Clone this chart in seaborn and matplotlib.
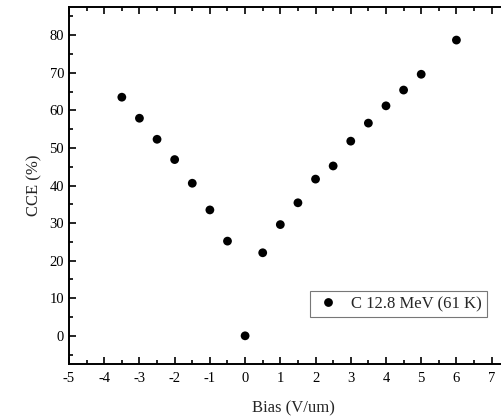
import matplotlib
matplotlib.use("Agg")
import matplotlib.pyplot as plt
import seaborn as sns
import pandas as pd
from matplotlib.ticker import MultipleLocator

bias = [-3.5, -3, -2.5, -2, -1.5, -1, -0.5, 0, 0.5, 1, 1.5, 2, 2.5, 3, 3.5, 4, 4.5, 5, 6]
cce = [63.5, 57.9, 52.3, 46.9, 40.6, 33.5, 25.2, 0.0, 22.1, 29.6, 35.4, 41.7, 45.2, 51.8, 56.6, 61.2, 65.4, 69.6, 78.7]
series_label = "C 12.8 MeV (61 K)"

df = pd.DataFrame({"Bias": bias, "CCE": cce, "series": series_label})

sns.set_style("ticks")
plt.rcParams["font.family"] = ["Liberation Serif", "DejaVu Serif"]
plt.rcParams["axes.unicode_minus"] = False

fig = plt.figure(figsize=(5.02, 4.19), dpi=100)
ax = fig.add_axes([69 / 502, 55 / 419, 448 / 502, 357 / 419])

sns.scatterplot(data=df, x="Bias", y="CCE", hue="series", palette=["black"],
                s=40, edgecolor="black", linewidth=0, ax=ax)

ax.set_xlim(-5, 7.72)
ax.set_ylim(-7.5, 87.5)
ax.xaxis.set_major_locator(MultipleLocator(1))
ax.xaxis.set_minor_locator(MultipleLocator(0.5))
ax.yaxis.set_major_locator(MultipleLocator(10))
ax.yaxis.set_minor_locator(MultipleLocator(5))
ax.tick_params(which="both", direction="in", top=True, right=True, width=1.2,
               labelsize=10.5, colors="black")
ax.tick_params(which="major", length=5)
ax.tick_params(which="minor", length=3)
ax.tick_params(axis="x", which="major", pad=6)
for sp in ax.spines.values():
    sp.set_linewidth(1.4)
    sp.set_color("black")

ax.set_xlabel("Bias (V/um)", fontsize=12, labelpad=11)
ax.set_ylabel("CCE (%)", fontsize=12, labelpad=5)

leg = ax.legend(loc="lower right", bbox_to_anchor=((487 - 69) / 448, 47 / 357),
                frameon=True, fancybox=False, fontsize=12, handletextpad=0.6,
                borderpad=0.3, markerscale=1.0, handlelength=1.6, borderaxespad=0)
leg.get_frame().set_edgecolor("#555555")
leg.get_frame().set_linewidth(0.8)

fig.savefig("out.png", dpi=100)
